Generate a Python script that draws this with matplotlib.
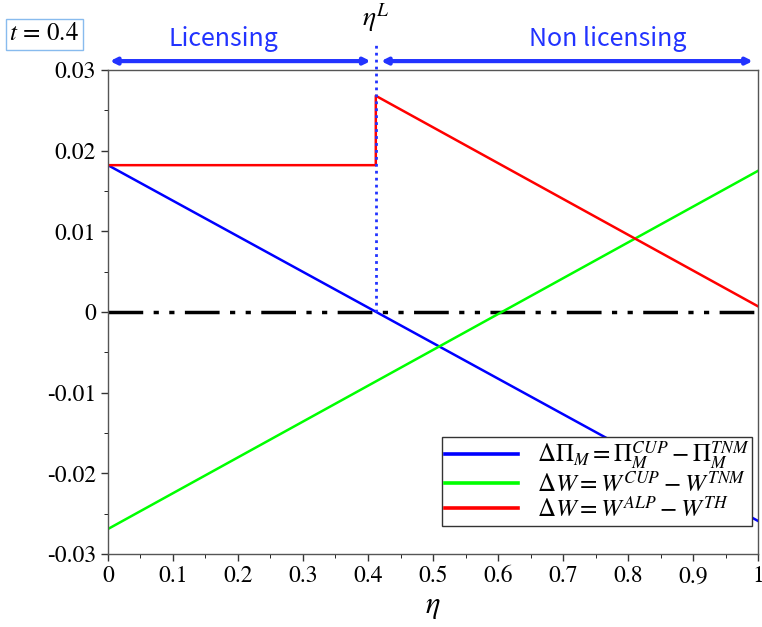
import matplotlib
matplotlib.use("Agg")
import matplotlib.pyplot as plt
import numpy as np

plt.rcParams['mathtext.fontset'] = 'stix'
plt.rcParams['font.family'] = ['STIXGeneral', 'DejaVu Serif']

eta = [0.0, 1.0]
profit_diff = [0.0182, -0.0259]
welfare_cup = [-0.0269, 0.0175]
eta_L = 0.412
red_x = [0.0, eta_L, eta_L, 1.0]
red_y = [0.0182, 0.0182, 0.0268, 0.0007]

xticks = [0, 0.1, 0.2, 0.3, 0.4, 0.5, 0.6, 0.7, 0.8, 0.9, 1]
xtick_labels = ['0', '0.1', '0.2', '0.3', '0.4', '0.5', '0.6', '0.7', '0.8', '0.9', '1']
yticks = [-0.03, -0.02, -0.01, 0, 0.01, 0.02, 0.03]
ytick_labels = ['-0.03', '-0.02', '-0.01', '0', '0.01', '0.02', '0.03']

fig = plt.figure(figsize=(7.62, 6.27), dpi=100)
ax = fig.add_axes([0.1417, 0.1164, 0.8531, 0.772])

ax.plot(eta, profit_diff, color='#0000ff', lw=1.8,
        label=r'$\Delta\Pi_M = \Pi_M^{CUP} - \Pi_M^{TNM}$')
ax.plot(eta, welfare_cup, color='#00ff00', lw=1.8,
        label=r'$\Delta W = W^{CUP} - W^{TNM}$')
ax.plot(red_x, red_y, color='#ff0000', lw=1.8,
        label=r'$\Delta W = W^{ALP} - W^{TH}$')
ax.axhline(0, color='black', lw=2.5, dashes=(10, 3, 1.5, 3, 1.5, 3), zorder=1)

ax.set_xlim(0, 1)
ax.set_ylim(-0.03, 0.03)
ax.set_xticks(xticks)
ax.set_xticklabels(xtick_labels)
ax.set_yticks(yticks)
ax.set_yticklabels(ytick_labels)
ax.set_xticks(np.arange(0.05, 1.0, 0.1), minor=True)
ax.set_yticks(np.arange(-0.025, 0.03, 0.01), minor=True)
ax.tick_params(direction='out', length=5, width=1, colors='#333333',
               labelcolor='black', labelsize=17)
ax.tick_params(which='minor', direction='out', length=3)
ax.tick_params(top=False, right=False)
for s in ax.spines.values():
    s.set_color('#555555')
    s.set_linewidth(1)
ax.set_xlabel(r'$\eta$', fontsize=22, labelpad=4)

leg = ax.legend(loc='lower right', bbox_to_anchor=(0.991, 0.058), fontsize=18,
                frameon=True, fancybox=False, edgecolor='#333333', framealpha=1,
                handlelength=2.9, handletextpad=0.75, borderaxespad=0,
                labelspacing=0.0, borderpad=0.12)
leg.get_frame().set_linewidth(1)
for h in leg.get_lines():
    h.set_linewidth(2.6)

# vertical dotted line and eta^L label
ax.plot([eta_L, eta_L], [0, 0.0335], color='#2233ff', lw=2, ls=(0, (1, 1.5)),
        clip_on=False, zorder=3)
ax.text(eta_L, 0.0345, r'$\eta^L$', fontsize=20, ha='center', va='bottom')

# arrows
arrow_y = 0.0311
ax.annotate('', xy=(0.003, arrow_y), xytext=(eta_L - 0.008, arrow_y),
            arrowprops=dict(arrowstyle='<|-|>', color='#2233ff', lw=3,
                            mutation_scale=9, shrinkA=0, shrinkB=0),
            annotation_clip=False)
ax.annotate('', xy=(eta_L + 0.008, arrow_y), xytext=(0.992, arrow_y),
            arrowprops=dict(arrowstyle='<|-|>', color='#2233ff', lw=3,
                            mutation_scale=9, shrinkA=0, shrinkB=0),
            annotation_clip=False)
ax.text(0.177, 0.0322, 'Licensing', color='#2233ff', fontsize=18,
        family=['Noto Sans CJK JP', 'DejaVu Sans'], ha='center', va='bottom')
ax.text(0.769, 0.0322, 'Non licensing', color='#2233ff', fontsize=18,
        family=['Noto Sans CJK JP', 'DejaVu Sans'], ha='center', va='bottom')

fig.text(0.058, 0.945, r'$t\,=\,0.4$', fontsize=18, ha='center', va='center',
         bbox=dict(boxstyle='square,pad=0.15', fc='white', ec='#88bbee', lw=1))

fig.savefig('out.png', dpi=100)
